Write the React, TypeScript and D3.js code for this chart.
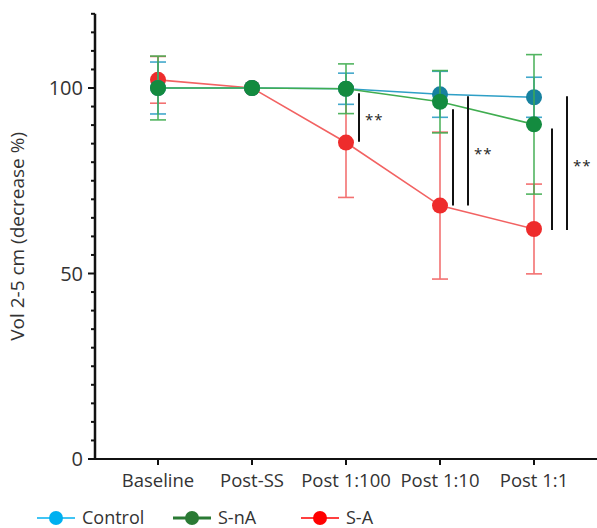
import React from 'react';
import * as d3 from 'd3';

// categories and series (mean, SD)
const categories = ['Baseline', 'Post-SS', 'Post 1:100', 'Post 1:10', 'Post 1:1'];
const controlMean = [100, 100, 99.8, 98.3, 97.5];
const controlSd = [7, 0, 4.2, 6.2, 5.4];
const snaMean = [100, 100, 99.8, 96.3, 90.2];
const snaSd = [8.6, 0, 6.7, 8.4, 18.8];
const saMean = [102.2, 100, 85.3, 68.3, 62];
const saSd = [6.3, 0, 14.8, 19.8, 12.1];
const yTicksMajor = [0, 50, 100];
const yTicksMinor = d3.range(0, 121, 5);

// significance bars: category, value ranges [top, bottom]
const sigCats = ['Post 1:100', 'Post 1:10', 'Post 1:1'];
const sigRanges = [
  [[98.6, 85.5]],
  [[94.3, 68.3], [97.8, 68.3]],
  [[89.1, 61.7], [97.8, 61.7]]
];
const sigLabel = '**';

const series = [
  { name: 'S-A', mean: saMean, sd: saSd, marker: '#ee2c2c', line: '#f26262', legend: '#ff0000', legendWidth: 1.6 },
  { name: 'Control', mean: controlMean, sd: controlSd, marker: '#17819f', line: '#2e9fc6', legend: '#00b0f0', legendWidth: 1.6 },
  { name: 'S-nA', mean: snaMean, sd: snaSd, marker: '#138b3f', line: '#40ad50', legend: '#2a7a34', legendWidth: 3 }
];
const legendOrder = ['Control', 'S-nA', 'S-A'];

const font = '"Open Sans", sans-serif';
const textColor = '#333';

export default function App() {
  const width = 597, height = 528;
  const axisX = 95, axisY = 459;

  const x = d3.scalePoint<string>().domain(categories).range([111, 581]).padding(0.5);
  const y = d3.scaleLinear().domain([0, 120]).range([axisY, 13.8]);

  const line = d3.line<number>()
    .x((d, i) => x(categories[i])!)
    .y(d => y(d));

  const sigOffsets = [13, 13, 18];
  const legendX = [37, 173, 301];

  return (
    <svg width={width} height={height} style={{ position: 'absolute', left: 0, top: 0 }} fontFamily={font}>
      {/* y axis */}
      <line x1={axisX} x2={axisX} y1={y(120)} y2={axisY + 1} stroke="#111" strokeWidth={2.5} />
      {yTicksMinor.map(t => (
        <line key={'m' + t} x1={axisX - (yTicksMajor.includes(t) ? 7 : 4)} x2={axisX} y1={y(t)} y2={y(t)} stroke="#111" strokeWidth={2} />
      ))}
      {yTicksMajor.map(t => (
        <text key={'t' + t} x={axisX - 12} y={y(t)} dy="0.36em" textAnchor="end" fontSize={20} fill={textColor}>{t}</text>
      ))}
      <text transform={`translate(24,${(y(0) + y(120)) / 2}) rotate(-90)`} textAnchor="middle" fontSize={19} fill={textColor}>
        Vol 2-5 cm (decrease %)
      </text>

      {/* x axis */}
      <line x1={axisX - 1} x2={width} y1={axisY} y2={axisY} stroke="#111" strokeWidth={2} />
      {categories.map(c => (
        <g key={c}>
          <line x1={x(c)} x2={x(c)} y1={axisY} y2={axisY + 6} stroke="#111" strokeWidth={2} />
          <text x={x(c)} y={axisY + 28} textAnchor="middle" fontSize={18.5} fill={textColor}>{c}</text>
        </g>
      ))}

      {/* series */}
      {series.map(s => (
        <g key={s.name}>
          <path d={line(s.mean)!} fill="none" stroke={s.line} strokeWidth={1.6} />
          {s.mean.map((m, i) => s.sd[i] > 0 && (
            <g key={i} stroke={s.line} strokeWidth={1.6} opacity={0.9}>
              <line x1={x(categories[i])} x2={x(categories[i])} y1={y(m + s.sd[i])} y2={y(m - s.sd[i])} />
              <line x1={x(categories[i])! - 8} x2={x(categories[i])! + 8} y1={y(m + s.sd[i])} y2={y(m + s.sd[i])} />
              <line x1={x(categories[i])! - 8} x2={x(categories[i])! + 8} y1={y(m - s.sd[i])} y2={y(m - s.sd[i])} />
            </g>
          ))}
          {s.mean.map((m, i) => (
            <circle key={'c' + i} cx={x(categories[i])} cy={y(m)} r={8} fill={s.marker} />
          ))}
        </g>
      ))}

      {/* significance */}
      {sigCats.map((c, ci) => {
        const ranges = sigRanges[ci];
        const bx = x(c)! + sigOffsets[ci];
        const longest = ranges.reduce((a, b) => (a[0] - a[1] > b[0] - b[1] ? a : b));
        const mid = (y(longest[0]) + y(longest[1])) / 2;
        return (
          <g key={c}>
            {ranges.map((r, i) => (
              <line key={i} x1={bx + i * 15} x2={bx + i * 15} y1={y(r[0])} y2={y(r[1])} stroke="#111" strokeWidth={2} />
            ))}
            <text x={bx + (ranges.length - 1) * 15 + 6} y={mid + 8} fontSize={15} letterSpacing={1} fill="#222">{sigLabel}</text>
          </g>
        );
      })}

      {/* legend */}
      {legendOrder.map((name, i) => {
        const s = series.find(d => d.name === name)!;
        const lx = legendX[i], ly = 518;
        return (
          <g key={name}>
            <line x1={lx} x2={lx + 38} y1={ly} y2={ly} stroke={s.legend} strokeWidth={s.legendWidth} />
            <circle cx={lx + 19} cy={ly} r={7} fill={s.legend} />
            <text x={lx + 45} y={ly} dy="0.36em" fontSize={18} fill={textColor}>{name}</text>
          </g>
        );
      })}
    </svg>
  );
}
